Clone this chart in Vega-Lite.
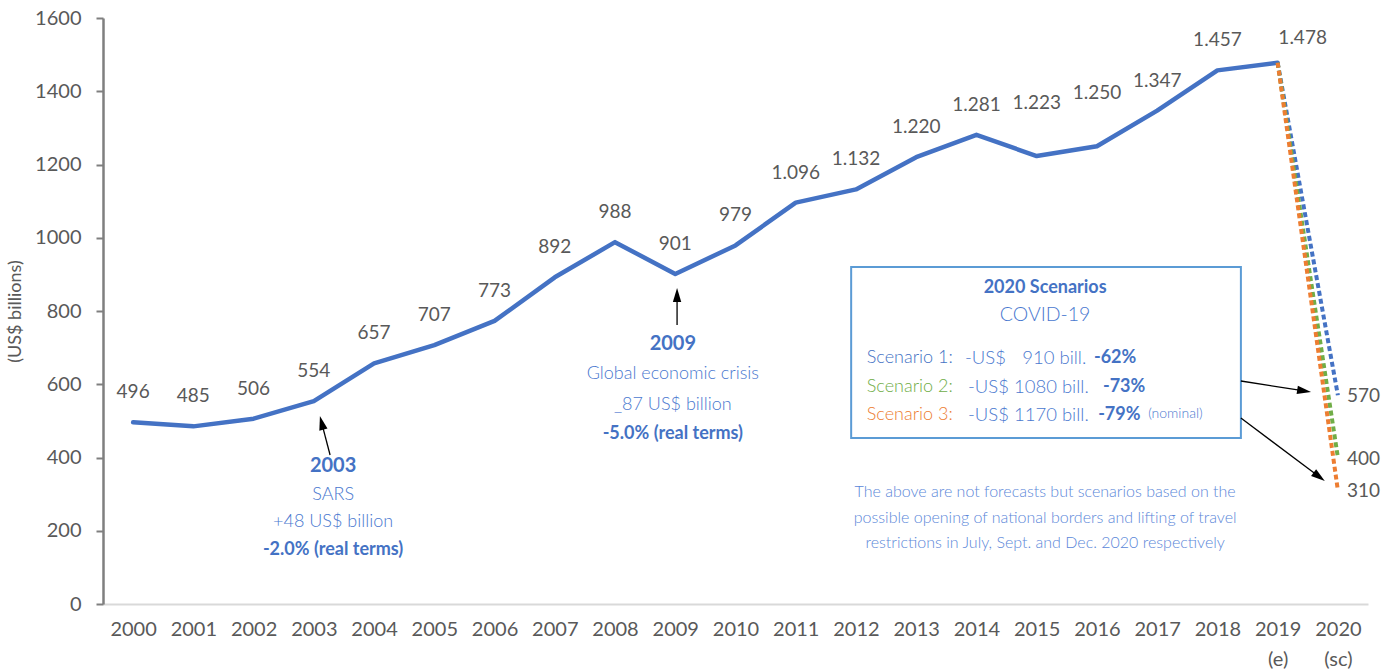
{
  "$schema": "https://vega.github.io/schema/vega-lite/v6.json",
  "width": 1265,
  "height": 586,
  "autosize": {"type": "none"},
  "padding": {"left": 103, "top": 18, "right": 27, "bottom": 65},
  "background": "white",
  "config": {"view": {"stroke": null}, "font": "Lato"},
  "datasets": {
    "series": [
      {"year": 2000, "value": 496, "label": "496"},
      {"year": 2001, "value": 485, "label": "485"},
      {"year": 2002, "value": 506, "label": "506"},
      {"year": 2003, "value": 554, "label": "554"},
      {"year": 2004, "value": 657, "label": "657"},
      {"year": 2005, "value": 707, "label": "707"},
      {"year": 2006, "value": 773, "label": "773"},
      {"year": 2007, "value": 892, "label": "892"},
      {"year": 2008, "value": 988, "label": "988"},
      {"year": 2009, "value": 901, "label": "901"},
      {"year": 2010, "value": 979, "label": "979"},
      {"year": 2011, "value": 1096, "label": "1.096"},
      {"year": 2012, "value": 1132, "label": "1.132"},
      {"year": 2013, "value": 1220, "label": "1.220"},
      {"year": 2014, "value": 1281, "label": "1.281"},
      {"year": 2015, "value": 1223, "label": "1.223"},
      {"year": 2016, "value": 1250, "label": "1.250"},
      {"year": 2017, "value": 1347, "label": "1.347"},
      {"year": 2018, "value": 1457, "label": "1.457"},
      {"year": 2019, "value": 1478, "label": "1.478"}
    ],
    "scenarios": [
      {"year": 2019, "value": 1478, "scenario": "1"},
      {"year": 2020, "value": 570, "scenario": "1", "label": "570"},
      {"year": 2019, "value": 1478, "scenario": "2"},
      {"year": 2020, "value": 400, "scenario": "2", "label": "400"},
      {"year": 2019, "value": 1478, "scenario": "3"},
      {"year": 2020, "value": 310, "scenario": "3", "label": "310"}
    ],
    "boldBig": [
      {"year": 2003.32, "value": 376.8, "text": "2003"},
      {"year": 2008.96, "value": 709.9, "text": "2009"}
    ],
    "boldSmall": [
      {"year": 2003.32, "value": 147.4, "text": "-2.0% (real terms)"},
      {"year": 2008.96, "value": 464.2, "text": "-5.0% (real terms)"},
      {"year": 2015.14, "value": 862.8, "text": "2020 Scenarios"}
    ],
    "light": [
      {"year": 2003.32, "value": 297.6, "text": "SARS"},
      {"year": 2003.32, "value": 223.9, "text": "+48 US$ billion"},
      {"year": 2008.96, "value": 628.0, "text": "Global economic crisis"},
      {"year": 2008.96, "value": 543.3, "text": "_87 US$ billion"}
    ],
    "covid": [
      {"year": 2015.14, "value": 789.1, "text": "COVID-19"}
    ],
    "scenLabels": [
      {"year": 2012.18, "value": 671.7, "text": "Scenario 1:", "scenario": "1"},
      {"year": 2012.18, "value": 592.5, "text": "Scenario 2:", "scenario": "2"},
      {"year": 2012.18, "value": 516.0, "text": "Scenario 3:", "scenario": "3"}
    ],
    "scenAmounts": [
      {"year": 2013.81, "value": 671.7, "text": "-US$"},
      {"year": 2014.76, "value": 671.7, "text": "910 bill."},
      {"year": 2013.86, "value": 592.5, "text": "-US$ 1080 bill."},
      {"year": 2013.86, "value": 516.0, "text": "-US$ 1170 bill."}
    ],
    "scenPct": [
      {"year": 2015.95, "value": 671.7, "text": "-62%"},
      {"year": 2016.1, "value": 592.5, "text": "-73%"},
      {"year": 2016.02, "value": 516.0, "text": "-79%"}
    ],
    "nominal": [
      {"year": 2016.85, "value": 518.0, "text": "(nominal)"}
    ],
    "footnote": [
      {"year": 2015.14, "value": 305.8, "text": "The above are not forecasts but scenarios based on the"},
      {"year": 2015.14, "value": 234.8, "text": "possible opening of national borders and lifting of travel"},
      {"year": 2015.14, "value": 166.6, "text": "restrictions in July, Sept. and Dec. 2020 respectively"}
    ],
    "box": [
      {"year": 2011.92, "year2": 2018.39, "value": 920.1, "value2": 453.2}
    ],
    "arrows": [
      {"year": 2003.27, "value": 406.8, "year2": 2003.13, "value2": 494.7},
      {"year": 2009.03, "value": 761.8, "year2": 2009.03, "value2": 843.7},
      {"year": 2018.39, "value": 608.9, "year2": 2019.44, "value2": 581.8},
      {"year": 2018.39, "value": 507.8, "year2": 2019.69, "value2": 347.3}
    ]
  },
  "layer": [
    {
      "data": {"name": "series"},
      "mark": {"type": "line", "color": "#4472C4", "strokeWidth": 4.5, "strokeCap": "round", "strokeJoin": "round"},
      "encoding": {
        "x": {
          "field": "year", "type": "quantitative",
          "scale": {"domain": [1999.5, 2020.5], "nice": false, "zero": false},
          "axis": {
            "title": null,
            "values": [2000, 2001, 2002, 2003, 2004, 2005, 2006, 2007, 2008, 2009, 2010, 2011, 2012, 2013, 2014, 2015, 2016, 2017, 2018, 2019, 2020],
            "format": "d",
            "labelExpr": "datum.value == 2019 ? ['2019', '(e)'] : datum.value == 2020 ? ['2020', '(sc)'] : datum.label",
            "grid": false, "ticks": false,
            "domainColor": "#d9d9d9", "domainWidth": 2,
            "labelFont": "Lato", "labelFontSize": 20, "labelColor": "#595959",
            "labelPadding": 15, "labelLineHeight": 30, "labelFlush": false, "labelOverlap": false
          }
        },
        "y": {
          "field": "value", "type": "quantitative",
          "scale": {"domain": [0, 1600], "nice": false},
          "axis": {
            "title": "(US$ billions)",
            "values": [0, 200, 400, 600, 800, 1000, 1200, 1400, 1600],
            "format": "d",
            "grid": false,
            "tickSize": 7, "tickColor": "#7f7f7f", "tickWidth": 2,
            "domainColor": "#7f7f7f", "domainWidth": 2.5,
            "labelFont": "Lato", "labelFontSize": 20, "labelColor": "#595959", "labelPadding": 15,
            "titleFont": "Lato", "titleFontSize": 18, "titleFontWeight": "normal", "titleColor": "#595959", "titlePadding": 10
          }
        }
      }
    },
    {
      "data": {"name": "scenarios"},
      "mark": {"type": "line", "strokeWidth": 4, "strokeDash": [5, 3]},
      "encoding": {
        "x": {"field": "year", "type": "quantitative"},
        "y": {"field": "value", "type": "quantitative"},
        "color": {"field": "scenario", "type": "nominal", "scale": {"domain": ["1", "2", "3"], "range": ["#4472C4", "#70AD47", "#ED7D31"]}, "legend": null}
      }
    },
    {
      "data": {"name": "scenarios"},
      "transform": [{"filter": "datum.year == 2020"}],
      "mark": {"type": "text", "align": "left", "baseline": "middle", "dx": 9, "dy": 1, "fontSize": 19, "color": "#595959", "font": "Lato"},
      "encoding": {
        "x": {"field": "year", "type": "quantitative"},
        "y": {"field": "value", "type": "quantitative"},
        "text": {"field": "label"}
      }
    },
    {
      "data": {"name": "series"},
      "transform": [{"filter": "datum.year != 2015 && datum.year != 2016 && datum.year != 2019"}],
      "mark": {"type": "text", "align": "center", "baseline": "middle", "dy": -30, "fontSize": 19, "color": "#595959", "font": "Lato"},
      "encoding": {
        "x": {"field": "year", "type": "quantitative"},
        "y": {"field": "value", "type": "quantitative"},
        "text": {"field": "label"}
      }
    },
    {
      "data": {"name": "series"},
      "transform": [{"filter": "datum.year == 2015 || datum.year == 2016"}],
      "mark": {"type": "text", "align": "center", "baseline": "middle", "dy": -53, "fontSize": 19, "color": "#595959", "font": "Lato"},
      "encoding": {
        "x": {"field": "year", "type": "quantitative"},
        "y": {"field": "value", "type": "quantitative"},
        "text": {"field": "label"}
      }
    },
    {
      "data": {"name": "series"},
      "transform": [{"filter": "datum.year == 2019"}],
      "mark": {"type": "text", "align": "center", "baseline": "middle", "dx": 25, "dy": -25, "fontSize": 19, "color": "#595959", "font": "Lato"},
      "encoding": {
        "x": {"field": "year", "type": "quantitative"},
        "y": {"field": "value", "type": "quantitative"},
        "text": {"field": "label"}
      }
    },
    {
      "data": {"name": "box"},
      "mark": {"type": "rect", "fill": null, "fillOpacity": 0, "stroke": "#5B9BD5", "strokeWidth": 2},
      "encoding": {
        "x": {"field": "year", "type": "quantitative"},
        "x2": {"field": "year2"},
        "y": {"field": "value", "type": "quantitative"},
        "y2": {"field": "value2"}
      }
    },
    {
      "data": {"name": "boldBig"},
      "mark": {"type": "text", "align": "center", "baseline": "middle", "fontSize": 20, "fontWeight": "bold", "color": "#4472C4", "font": "Lato"},
      "encoding": {
        "x": {"field": "year", "type": "quantitative"},
        "y": {"field": "value", "type": "quantitative"},
        "text": {"field": "text"}
      }
    },
    {
      "data": {"name": "boldSmall"},
      "mark": {"type": "text", "align": "center", "baseline": "middle", "fontSize": 18, "fontWeight": "bold", "color": "#4472C4", "font": "Lato"},
      "encoding": {
        "x": {"field": "year", "type": "quantitative"},
        "y": {"field": "value", "type": "quantitative"},
        "text": {"field": "text"}
      }
    },
    {
      "data": {"name": "light"},
      "mark": {"type": "text", "align": "center", "baseline": "middle", "fontSize": 18, "fontWeight": 300, "color": "#4a78cf", "font": "Lato"},
      "encoding": {
        "x": {"field": "year", "type": "quantitative"},
        "y": {"field": "value", "type": "quantitative"},
        "text": {"field": "text"}
      }
    },
    {
      "data": {"name": "covid"},
      "mark": {"type": "text", "align": "center", "baseline": "middle", "fontSize": 19.5, "fontWeight": 300, "color": "#4a78cf", "font": "Lato"},
      "encoding": {
        "x": {"field": "year", "type": "quantitative"},
        "y": {"field": "value", "type": "quantitative"},
        "text": {"field": "text"}
      }
    },
    {
      "data": {"name": "scenLabels"},
      "mark": {"type": "text", "align": "left", "baseline": "middle", "fontSize": 18, "fontWeight": 300, "font": "Lato"},
      "encoding": {
        "x": {"field": "year", "type": "quantitative"},
        "y": {"field": "value", "type": "quantitative"},
        "text": {"field": "text"},
        "color": {"field": "scenario", "type": "nominal", "legend": null}
      }
    },
    {
      "data": {"name": "scenAmounts"},
      "mark": {"type": "text", "align": "left", "baseline": "middle", "fontSize": 18.5, "fontWeight": 300, "color": "#4a78cf", "font": "Lato"},
      "encoding": {
        "x": {"field": "year", "type": "quantitative"},
        "y": {"field": "value", "type": "quantitative"},
        "text": {"field": "text"}
      }
    },
    {
      "data": {"name": "scenPct"},
      "mark": {"type": "text", "align": "left", "baseline": "middle", "fontSize": 18, "fontWeight": "bold", "color": "#4472C4", "font": "Lato"},
      "encoding": {
        "x": {"field": "year", "type": "quantitative"},
        "y": {"field": "value", "type": "quantitative"},
        "text": {"field": "text"}
      }
    },
    {
      "data": {"name": "nominal"},
      "mark": {"type": "text", "align": "left", "baseline": "middle", "fontSize": 14, "fontWeight": 300, "color": "#4a78cf", "font": "Lato"},
      "encoding": {
        "x": {"field": "year", "type": "quantitative"},
        "y": {"field": "value", "type": "quantitative"},
        "text": {"field": "text"}
      }
    },
    {
      "data": {"name": "footnote"},
      "mark": {"type": "text", "align": "center", "baseline": "middle", "fontSize": 16, "fontWeight": 300, "color": "#5b87d9", "font": "Lato"},
      "encoding": {
        "x": {"field": "year", "type": "quantitative"},
        "y": {"field": "value", "type": "quantitative"},
        "text": {"field": "text"}
      }
    },
    {
      "data": {"name": "arrows"},
      "mark": {"type": "rule", "color": "#000000", "strokeWidth": 1.3},
      "encoding": {
        "x": {"field": "year", "type": "quantitative"},
        "x2": {"field": "year2"},
        "y": {"field": "value", "type": "quantitative"},
        "y2": {"field": "value2"}
      }
    },
    {
      "data": {"name": "arrows"},
      "transform": [{"filter": "datum.year < 2004"}],
      "mark": {"type": "point", "shape": "M0,-1L0.6,1L-0.6,1Z", "filled": true, "color": "#000000", "opacity": 1, "size": 196, "angle": 345.6},
      "encoding": {
        "x": {"field": "year2", "type": "quantitative"},
        "y": {"field": "value2", "type": "quantitative"}
      }
    },
    {
      "data": {"name": "arrows"},
      "transform": [{"filter": "datum.year > 2009 && datum.year < 2010"}],
      "mark": {"type": "point", "shape": "M0,-1L0.6,1L-0.6,1Z", "filled": true, "color": "#000000", "opacity": 1, "size": 196, "angle": 0},
      "encoding": {
        "x": {"field": "year2", "type": "quantitative"},
        "y": {"field": "value2", "type": "quantitative"}
      }
    },
    {
      "data": {"name": "arrows"},
      "transform": [{"filter": "datum.year > 2018 && datum.value > 600"}],
      "mark": {"type": "point", "shape": "M0,-1L0.6,1L-0.6,1Z", "filled": true, "color": "#000000", "opacity": 1, "size": 196, "angle": 98.9},
      "encoding": {
        "x": {"field": "year2", "type": "quantitative"},
        "y": {"field": "value2", "type": "quantitative"}
      }
    },
    {
      "data": {"name": "arrows"},
      "transform": [{"filter": "datum.year > 2018 && datum.value < 600"}],
      "mark": {"type": "point", "shape": "M0,-1L0.6,1L-0.6,1Z", "filled": true, "color": "#000000", "opacity": 1, "size": 196, "angle": 126.9},
      "encoding": {
        "x": {"field": "year2", "type": "quantitative"},
        "y": {"field": "value2", "type": "quantitative"}
      }
    }
  ]
}
